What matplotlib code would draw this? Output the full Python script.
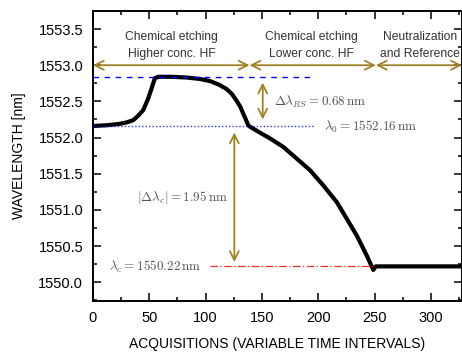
import matplotlib
matplotlib.use("Agg")
import matplotlib.pyplot as plt
from matplotlib.ticker import MultipleLocator

plt.rcParams['font.family'] = ['Liberation Sans', 'DejaVu Sans']
plt.rcParams['mathtext.fontset'] = 'cm'

acq = [0, 12, 24, 30, 35.8, 40, 44.7, 49.1, 52.1, 55, 58, 70, 83, 95, 104,
       112, 118.7, 123.5, 127.5, 131, 133.4, 136, 137.8, 139.4, 148, 157,
       169, 180.8, 192.6, 204.4, 216.3, 225.2, 234, 243, 248.8, 251, 260,
       290, 328]
wl = [1552.16, 1552.17, 1552.19, 1552.21, 1552.24, 1552.30, 1552.38,
      1552.54, 1552.68, 1552.82, 1552.84, 1552.84, 1552.83, 1552.81,
      1552.78, 1552.73, 1552.67, 1552.60, 1552.51, 1552.42, 1552.33,
      1552.24, 1552.17, 1552.15, 1552.07, 1551.99, 1551.87, 1551.71,
      1551.55, 1551.34, 1551.11, 1550.88, 1550.65, 1550.37, 1550.17,
      1550.22, 1550.22, 1550.22, 1550.22]

lam_max = 1552.84
lam_0 = 1552.16
lam_c = 1550.22
phase_edges = [0, 139, 251, 327.5]
phase_labels = ["Chemical etching\nHigher conc. HF",
                "Chemical etching\nLower conc. HF",
                "Neutralization\nand Reference"]
phase_text_x = [70, 194, 290]

gold = '#A0812A'
gray = '#555555'

fig = plt.figure(figsize=(4.62, 3.53), dpi=100)
ax = fig.add_axes([0.201, 0.147, 0.799, 0.822])

ax.plot(acq, wl, color='black', lw=3, solid_capstyle='round', solid_joinstyle='round')

# reference lines
ax.plot([0, 194], [lam_max, lam_max], color='blue', lw=1, ls=(0, (4, 4)))
ax.plot([0, 196], [lam_0, lam_0], color='blue', lw=1, ls=(0, (1, 1.5)), alpha=0.8)
ax.plot([104, 250], [lam_c, lam_c], color='red', lw=0.9, ls=(0, (6, 2, 1, 2)), alpha=0.85)

# phase arrows
for i in range(3):
    ax.annotate('', xy=(phase_edges[i], 1553.0), xytext=(phase_edges[i + 1], 1553.0),
                arrowprops=dict(arrowstyle='<->', color=gold, lw=1.3,
                                mutation_scale=16, shrinkA=0, shrinkB=0))
    ax.text(phase_text_x[i], 1553.27, phase_labels[i], ha='center', va='center',
            fontsize=8.7, color='#333333', linespacing=1.5)

# shift arrows
ax.annotate('', xy=(150.7, 1552.76), xytext=(150.7, 1552.25),
            arrowprops=dict(arrowstyle='<->', color=gold, lw=1.3,
                            mutation_scale=16, shrinkA=0, shrinkB=0))
ax.annotate('', xy=(125.5, 1552.07), xytext=(125.5, 1550.28),
            arrowprops=dict(arrowstyle='<->', color=gold, lw=1.3,
                            mutation_scale=16, shrinkA=0, shrinkB=0))

ax.text(160.5, 1552.49, r'$\Delta\lambda_{RS} = 0.68\,\mathrm{nm}$', fontsize=9.5,
        color=gray, va='center', ha='left')
ax.text(205, 1552.15, r'$\lambda_0 = 1552.16\,\mathrm{nm}$', fontsize=9.5,
        color=gray, va='center', ha='left')
ax.text(80, 1551.17, r'$|\Delta\lambda_c| = 1.95\,\mathrm{nm}$', fontsize=9.5,
        color=gray, va='center', ha='center')
ax.text(55, 1550.21, r'$\lambda_c = 1550.22\,\mathrm{nm}$', fontsize=9.5,
        color=gray, va='center', ha='center')

ax.set_xlim(0, 327.5)
ax.set_ylim(1549.74, 1553.75)
ax.xaxis.set_major_locator(MultipleLocator(50))
ax.xaxis.set_minor_locator(MultipleLocator(25))
ax.yaxis.set_major_locator(MultipleLocator(0.5))
ax.yaxis.set_minor_locator(MultipleLocator(0.25))
ax.yaxis.set_major_formatter(matplotlib.ticker.FormatStrFormatter('%.1f'))
ax.tick_params(which='both', direction='in', top=True, right=True, labelsize=10.5, width=1.1)
ax.tick_params(which='major', length=6, pad=7)
ax.tick_params(which='minor', length=3)
for s in ax.spines.values():
    s.set_linewidth(1.4)

ax.set_xlabel('ACQUISITIONS (VARIABLE TIME INTERVALS)', fontsize=10, labelpad=9)
ax.set_ylabel('WAVELENGTH [nm]', fontsize=10, labelpad=9)

fig.savefig('out.png', dpi=100)
